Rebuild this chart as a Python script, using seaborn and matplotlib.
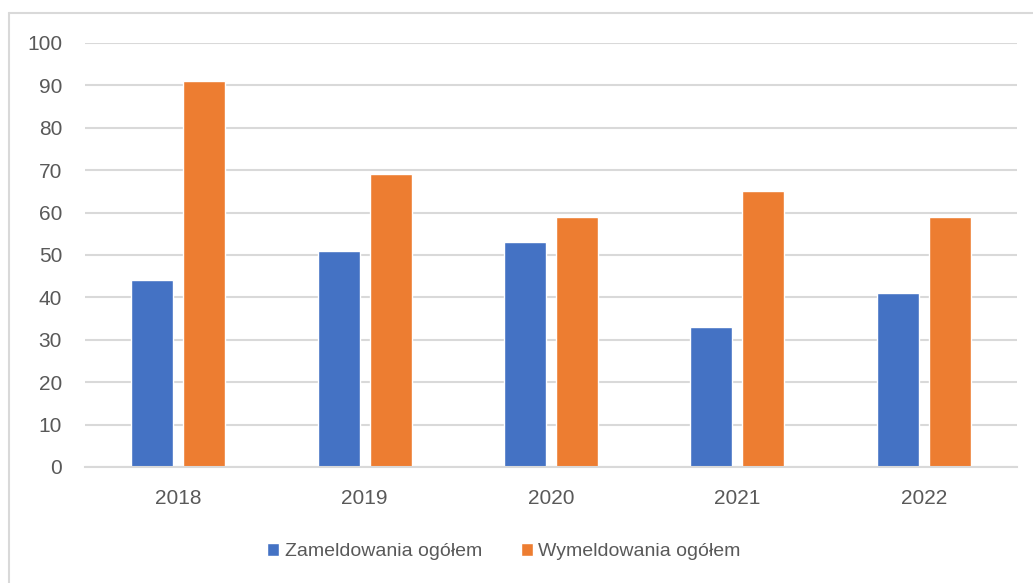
import pandas as pd
import matplotlib
matplotlib.use('Agg')
import matplotlib.pyplot as plt
import seaborn as sns
from matplotlib.lines import Line2D

# data
years = ['2018', '2019', '2020', '2021', '2022']
zameldowania = [44, 51, 53, 33, 41]
wymeldowania = [91, 69, 59, 65, 59]
series_names = ['Zameldowania ogółem', 'Wymeldowania ogółem']
colors = ['#4472C4', '#ED7D31']

df = pd.DataFrame({
    'rok': years * 2,
    'seria': [series_names[0]] * len(years) + [series_names[1]] * len(years),
    'wartosc': zameldowania + wymeldowania,
})

sns.set_style('white')
plt.rcParams['font.family'] = ['Liberation Sans', 'DejaVu Sans']

fig = plt.figure(figsize=(10.33, 5.83), dpi=100)
ax = fig.add_axes([85 / 1033, 116 / 583, 932 / 1033, 424 / 583])

sns.barplot(data=df, x='rok', y='wartosc', hue='seria', palette=colors,
            width=0.558, gap=0.19, ax=ax, saturation=1, legend=True)

ax.set_ylim(0, 100)
ax.set_xlim(-0.5, 4.5)
ax.set_yticks(range(0, 101, 10))
ax.yaxis.grid(True, color='#D9D9D9', linewidth=1.5)
ax.set_axisbelow(True)
for s in ['top', 'right', 'left']:
    ax.spines[s].set_visible(False)
ax.spines['bottom'].set_color('#D9D9D9')
ax.spines['bottom'].set_linewidth(1.5)
ax.tick_params(axis='both', length=0, labelsize=15, labelcolor='#595959')
ax.tick_params(axis='y', pad=16.5)
ax.tick_params(axis='x', pad=16)
ax.set_xlabel('')
ax.set_ylabel('')

ax.legend(loc='center', bbox_to_anchor=(0.4496, -0.2), ncol=2, frameon=False,
          fontsize=14, labelcolor='#595959', handlelength=0.6, handleheight=0.6,
          handletextpad=0.3, columnspacing=2.0)

# chart frame (only top and left edges are visible in the crop)
frame_kw = dict(transform=fig.transFigure, color='#D9D9D9', linewidth=1.5)
fig.add_artist(Line2D([9 / 1033, 1.0], [1 - 13 / 583, 1 - 13 / 583], **frame_kw))
fig.add_artist(Line2D([9 / 1033, 9 / 1033], [0.0, 1 - 13 / 583], **frame_kw))

fig.savefig('out.png', dpi=100)
